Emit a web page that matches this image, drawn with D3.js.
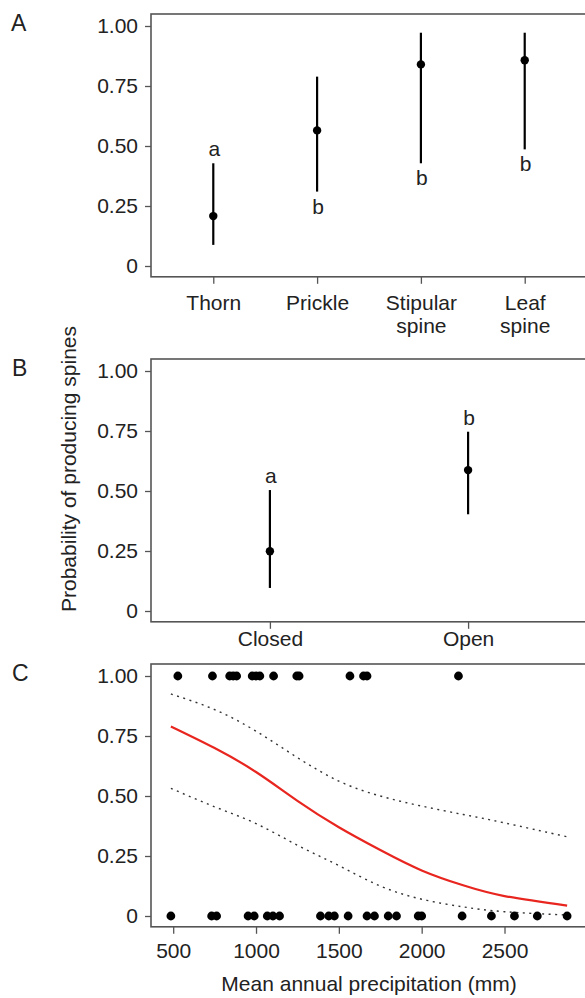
<!DOCTYPE html>
<html>
<head>
<meta charset="utf-8">
<script src="https://cdn.jsdelivr.net/npm/d3@7"></script>
<style>
  body { margin: 0; background: #fff; }
  svg { display: block; font-family: "Liberation Sans", Arial, Helvetica, sans-serif; }
</style>
</head>
<body>
<div id="chart"></div>
<script>
// Panel A - spine type
var catsA = ["Thorn", "Prickle", "Stipular spine", "Leaf spine"];
var estA = [0.208, 0.565, 0.840, 0.857];
var lowA = [0.088, 0.310, 0.428, 0.486];
var highA = [0.428, 0.789, 0.972, 0.972];
var lettersA = ["a", "b", "b", "b"];
var sideA = ["above", "below", "below", "below"];

// Panel B - habitat
var catsB = ["Closed", "Open"];
var estB = [0.249, 0.587];
var lowB = [0.096, 0.403];
var highB = [0.504, 0.747];
var lettersB = ["a", "b"];
var sideB = ["above", "above"];

// Panel C - precipitation (observed 0/1 and fitted curve)
var precipOne = [528, 737, 841, 862, 883, 977, 1000, 1023, 1106, 1246, 1260, 1567, 1649, 1670, 2222];
var precipZero = [486, 732, 762, 952, 989, 1068, 1102, 1142, 1389, 1439, 1473, 1556, 1670, 1715,
                  1798, 1848, 1979, 2000, 2244, 2421, 2560, 2698, 2878];
var curveX = [486, 750, 1000, 1250, 1500, 1750, 2000, 2250, 2500, 2878];
var fitP = [0.790, 0.700, 0.600, 0.480, 0.370, 0.275, 0.190, 0.128, 0.083, 0.043];
var upperP = [0.925, 0.860, 0.770, 0.660, 0.562, 0.500, 0.458, 0.423, 0.388, 0.330];
var lowerP = [0.532, 0.455, 0.385, 0.295, 0.210, 0.125, 0.070, 0.038, 0.018, 0.004];

var yTicks = [0, 0.25, 0.5, 0.75, 1];
var xTicksC = [500, 1000, 1500, 2000, 2500];

var W = 585, H = 998;
var left = 151, right = 587, panelH = 262.8;
var frameCol = "#555", textCol = "#222";
var fs = 21;

var svg = d3.select("#chart").append("svg")
  .attr("width", W).attr("height", H)
  .style("font-size", fs + "px");

function yFmt(d) { return d === 0 ? "0" : d3.format(".2f")(d); }

function drawFrame(top) {
  var y = d3.scaleLinear().domain([-0.045, 1.05]).range([top + panelH, top]);
  var g = svg.append("g");
  var ax = g.append("g")
    .attr("transform", `translate(${left},0)`)
    .call(d3.axisLeft(y).tickValues(yTicks).tickFormat(yFmt).tickSize(6).tickPadding(7));
  ax.select(".domain").remove();
  ax.selectAll("line").attr("stroke", frameCol).attr("stroke-width", 1.3);
  ax.selectAll("text").attr("fill", textCol).style("font-size", fs + "px");
  g.append("rect")
    .attr("x", left).attr("y", top)
    .attr("width", right - left).attr("height", panelH)
    .attr("fill", "none").attr("stroke", frameCol).attr("stroke-width", 1.6);
  return { g: g, y: y, bottom: top + panelH };
}

function panelLabel(txt, x, y) {
  svg.append("text").attr("x", x).attr("y", y)
    .style("font-size", "23px").attr("fill", textCol).text(txt);
}

function drawIntervals(p, cats, est, low, high, letters, side, labelGap) {
  var x = d3.scalePoint().domain(cats).range([left, right]).padding(0.6);
  var y = p.y;
  var ax = p.g.append("g")
    .attr("transform", `translate(0,${p.bottom})`)
    .call(d3.axisBottom(x).tickSize(7).tickPadding(labelGap).tickFormat(""));
  ax.select(".domain").remove();
  ax.selectAll("line").attr("stroke", frameCol).attr("stroke-width", 1.3);
  // category labels, split on spaces into lines
  ax.selectAll(".tick").append("text")
    .attr("fill", textCol).attr("text-anchor", "middle")
    .style("font-size", fs + "px")
    .selectAll("tspan")
    .data(d => d.split(" "))
    .join("tspan")
    .attr("x", 0)
    .attr("y", (d, i) => 7 + labelGap + 15 + i * 23.5)
    .text(d => d);

  var g = p.g.append("g");
  cats.forEach(function(c, i) {
    g.append("line")
      .attr("x1", x(c)).attr("x2", x(c))
      .attr("y1", y(low[i])).attr("y2", y(high[i]))
      .attr("stroke", "#000").attr("stroke-width", 2.2);
    g.append("circle")
      .attr("cx", x(c)).attr("cy", y(est[i])).attr("r", 4.2)
      .attr("fill", "#000");
    var ly = side[i] === "above" ? y(high[i]) - 7 : y(low[i]) + 22;
    g.append("text")
      .attr("x", x(c) + 1).attr("y", ly)
      .attr("text-anchor", "middle").attr("fill", textCol)
      .text(letters[i]);
  });
}

// A
var pA = drawFrame(14);
drawIntervals(pA, catsA, estA, lowA, highA, lettersA, sideA, 11);
panelLabel("A", 11, 31);

// B
var pB = drawFrame(359);
drawIntervals(pB, catsB, estB, lowB, highB, lettersB, sideB, 2);
panelLabel("B", 12, 376);

// y axis title (shared)
svg.append("text")
  .attr("transform", "translate(76,469) rotate(-90)")
  .attr("text-anchor", "middle").attr("fill", textCol)
  .text("Probability of producing spines");

// C
var pC = drawFrame(664);
panelLabel("C", 12, 681);
var xC = d3.scaleLinear().domain([366, 2998]).range([left, right]);
var yC = pC.y;
var axC = pC.g.append("g")
  .attr("transform", `translate(0,${pC.bottom})`)
  .call(d3.axisBottom(xC).tickValues(xTicksC).tickSize(7).tickPadding(9).tickFormat(d3.format("d")));
axC.select(".domain").remove();
axC.selectAll("line").attr("stroke", frameCol).attr("stroke-width", 1.3);
axC.selectAll("text").attr("fill", textCol).style("font-size", fs + "px");

svg.append("text")
  .attr("x", (left + right) / 2).attr("y", 991)
  .attr("text-anchor", "middle").attr("fill", textCol)
  .text("Mean annual precipitation (mm)");

var line = d3.line()
  .x((d, i) => xC(curveX[i]))
  .y(d => yC(d))
  .curve(d3.curveNatural);

var gC = pC.g.append("g");
[upperP, lowerP].forEach(function(s) {
  gC.append("path")
    .attr("d", line(s))
    .attr("fill", "none").attr("stroke", "#333")
    .attr("stroke-width", 1.4).attr("stroke-dasharray", "2,4.5");
});
gC.append("path")
  .attr("d", line(fitP))
  .attr("fill", "none").attr("stroke", "#e8251f").attr("stroke-width", 2.2);

gC.selectAll("circle.one")
  .data(precipOne).join("circle")
  .attr("class", "one")
  .attr("cx", d => xC(d)).attr("cy", yC(1)).attr("r", 4.4).attr("fill", "#000");
gC.selectAll("circle.zero")
  .data(precipZero).join("circle")
  .attr("class", "zero")
  .attr("cx", d => xC(d)).attr("cy", yC(0)).attr("r", 4.4).attr("fill", "#000");
</script>
</body>
</html>
